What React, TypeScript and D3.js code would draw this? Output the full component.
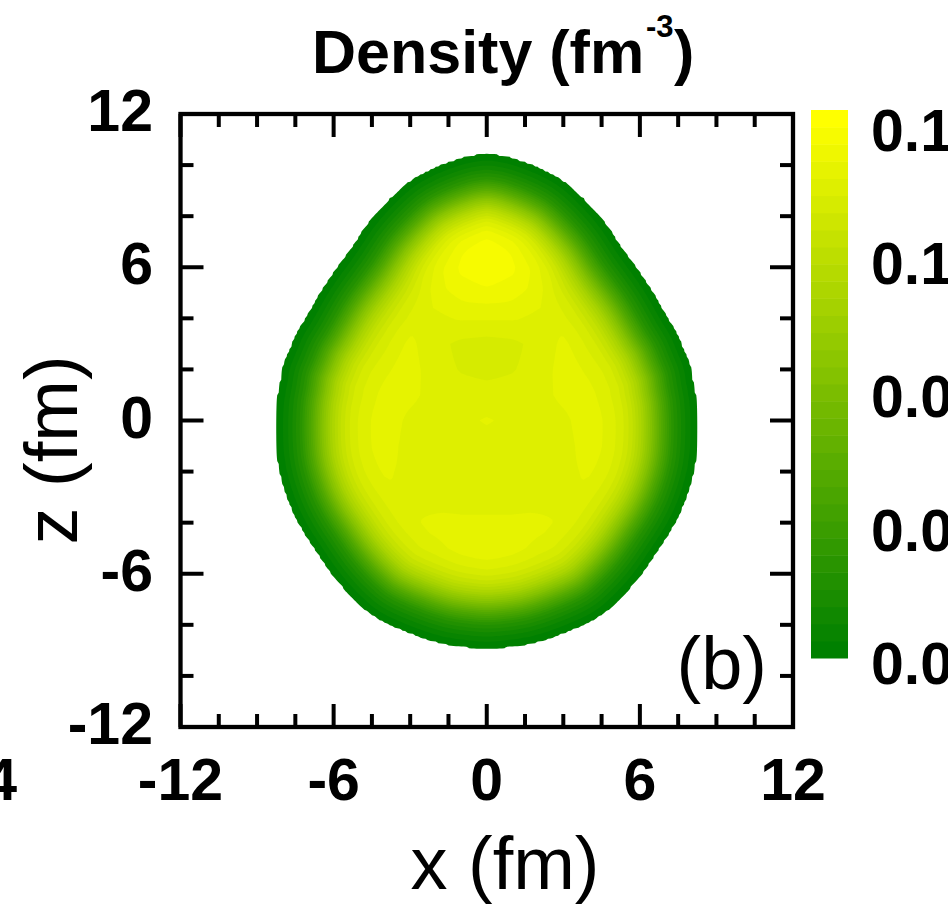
import React, { useMemo } from 'react';
import * as d3 from 'd3';

const W = 948;
const H = 904;
const FONT = '"Liberation Sans", Arial, Helvetica, sans-serif';

// outer edge of the density cloud (right half, x >= 0), in fm
const edgeZ = [10.44, 10.36, 10.16, 9.77, 9.27, 7.94, 6.65, 5.35, 4.03, 3.43, 2.74, 2.11, 1.45, 0.8, -0.49, -1.81, -3.12, -4.16, -5.2, -6.12, -7.03, -7.7, -8.3, -8.74, -8.92, -8.95];
const edgeHalfWidth = [0, 0.7, 1.4, 2.35, 3.17, 4.5, 5.4, 6.33, 7.1, 7.46, 7.76, 8.0, 8.12, 8.23, 8.28, 8.17, 7.8, 7.32, 6.66, 6.01, 5.2, 4.4, 3.14, 1.8, 0.6, 0];

// surface fall-off: fraction of the interior density vs depth below the edge (fm)
const skinDepth = [0, 0.3, 0.6, 1.0, 1.4, 1.8, 2.2, 2.6, 3.0, 3.5, 4.0, 5.0];
const skinFraction = [0.011, 0.045, 0.1, 0.2, 0.37, 0.57, 0.74, 0.86, 0.93, 0.97, 0.99, 1];

// interior density (1e-3 fm^-3) on a 1 fm grid: columns x = 0..9, rows z = 11..-10
const interiorX = [0, 1, 2, 3, 4, 5, 6, 7, 8, 9];
const interiorZ = [11, 10, 9, 8, 7, 6, 5, 4, 3, 2, 1, 0, -1, -2, -3, -4, -5, -6, -7, -8, -9, -10];
const interiorDensity = [
  [158, 157, 155, 152, 149, 146, 144, 143, 143, 143],
  [159, 158, 156, 152, 149, 146, 144, 143, 143, 143],
  [160, 159, 156, 151, 148, 145, 143, 143, 143, 143],
  [161, 159, 156, 151, 148, 145, 143, 143, 143, 143],
  [163, 161, 157, 151, 147, 145, 143, 143, 143, 143],
  [161, 159, 155, 150, 146, 145, 144, 143, 143, 143],
  [154, 153, 150, 147, 145, 146, 146, 145, 144, 143],
  [146, 146, 145, 146, 145, 146, 146, 146, 145, 144],
  [138, 139, 142, 148, 146, 147, 147, 146, 145, 144],
  [139, 140, 142, 148, 147, 147, 147, 146, 145, 144],
  [142, 142, 143, 147, 148, 147, 147, 146, 145, 144],
  [146, 144, 142, 144, 149, 148, 147, 146, 145, 144],
  [143, 143, 142, 143, 149, 148, 147, 146, 145, 144],
  [142, 142, 142, 144, 148, 148, 147, 146, 145, 144],
  [142, 142, 144, 146, 147, 147, 147, 146, 145, 144],
  [147, 147, 147, 147, 147, 147, 146, 146, 145, 144],
  [151, 150, 148, 147, 147, 146, 146, 145, 144, 144],
  [149, 148, 147, 147, 146, 146, 145, 145, 144, 144],
  [147, 147, 146, 146, 146, 145, 145, 144, 144, 144],
  [146, 146, 146, 146, 145, 145, 144, 144, 144, 144],
  [146, 146, 146, 146, 145, 145, 144, 144, 144, 144],
  [146, 146, 146, 146, 145, 145, 144, 144, 144, 144],
];

const xMajor = [-12, -6, 0, 6, 12];
const zMajor = [-12, -6, 0, 6, 12];
const xMinorStep = 1.5;
const zMinorStep = 2;
const cbTicks = [0, 0.04, 0.08, 0.12, 0.16];
const densityMin = 0.0015;
const densityMax = 0.166;
const nLevels = 32;

const plot = { left: 180.5, right: 793, top: 114, bottom: 727 };
const cb = { left: 811, right: 848, top: 110, bottom: 658 };

function segDist(px: number, pz: number, ax: number, az: number, bx: number, bz: number) {
  const dx = bx - ax, dz = bz - az;
  const L = dx * dx + dz * dz;
  let t = L > 0 ? ((px - ax) * dx + (pz - az) * dz) / L : 0;
  t = Math.max(0, Math.min(1, t));
  const ex = ax + t * dx - px, ez = az + t * dz - pz;
  return Math.sqrt(ex * ex + ez * ez);
}

function interiorAt(x: number, z: number) {
  const nc = interiorX.length, nr = interiorZ.length;
  const cx = Math.min(Math.abs(x) - interiorX[0], nc - 1);
  const c0 = Math.min(Math.floor(cx), nc - 2);
  const fx = cx - c0;
  const rz = Math.max(0, Math.min(nr - 1, interiorZ[0] - z));
  const r0 = Math.min(Math.floor(rz), nr - 2);
  const fz = rz - r0;
  const v = (r: number, c: number) => interiorDensity[r][c];
  const top = v(r0, c0) * (1 - fx) + v(r0, c0 + 1) * fx;
  const bot = v(r0 + 1, c0) * (1 - fx) + v(r0 + 1, c0 + 1) * fx;
  return (top * (1 - fz) + bot * fz) * 1e-3;
}

// smooth the read edge with a closed Catmull-Rom curve and flatten it to a polygon
function smoothEdge(raw: [number, number][]) {
  const pts: [number, number][] = [];
  let px = 0, py = 0;
  const ctx = {
    moveTo(a: number, b: number) { pts.push([a, b]); px = a; py = b; },
    lineTo(a: number, b: number) { pts.push([a, b]); px = a; py = b; },
    bezierCurveTo(x1: number, y1: number, x2: number, y2: number, x3: number, y3: number) {
      for (let s = 1; s <= 10; s++) {
        const t = s / 10, u = 1 - t;
        pts.push([
          u * u * u * px + 3 * u * u * t * x1 + 3 * u * t * t * x2 + t * t * t * x3,
          u * u * u * py + 3 * u * u * t * y1 + 3 * u * t * t * y2 + t * t * t * y3,
        ]);
      }
      px = x3; py = y3;
    },
    closePath() {},
  };
  d3.line().curve(d3.curveCatmullRomClosed.alpha(0.5)).context(ctx as any)(raw);
  return pts;
}

const App: React.FC = () => {
  const x = d3.scaleLinear().domain([-12, 12]).range([plot.left, plot.right]);
  const z = d3.scaleLinear().domain([-12, 12]).range([plot.bottom, plot.top]);
  const cbScale = d3.scaleLinear().domain([densityMin, densityMax]).range([cb.bottom, cb.top]);
  const color = d3.interpolateRgb('#008000', '#ffff00');
  const skin = d3.scaleLinear().domain(skinDepth).range(skinFraction).clamp(true);

  const bands = useMemo(() => {
    const raw: [number, number][] = [];
    edgeZ.forEach((zz, i) => raw.push([edgeHalfWidth[i], zz]));
    for (let i = edgeZ.length - 2; i > 0; i--) raw.push([-edgeHalfWidth[i], edgeZ[i]]);
    const poly = smoothEdge(raw);

    const step = 0.1;
    const n = Math.round(24 / step) + 1;
    const values = new Float64Array(n * n);
    for (let j = 0; j < n; j++) {
      const zz = 12 - j * step;
      for (let i = 0; i < n; i++) {
        const xx = -12 + i * step;
        if (zz > 11 || zz < -10 || Math.abs(xx) > 9.5) continue;
        if (!d3.polygonContains(poly, [xx, zz])) continue;
        let d = Infinity;
        for (let k = 0; k < poly.length; k++) {
          const a = poly[k], b = poly[(k + 1) % poly.length];
          d = Math.min(d, segDist(xx, zz, a[0], a[1], b[0], b[1]));
        }
        values[j * n + i] = interiorAt(xx, zz) * skin(d);
      }
    }
    const delta = (densityMax - densityMin) / nLevels;
    const thresholds = d3.range(nLevels).map((k) => densityMin + k * delta);
    const contours = d3.contours().size([n, n]).thresholds(thresholds)(Array.from(values));
    const proj = d3.geoTransform({
      point(px: number, py: number) {
        (this as any).stream.point(x(-12 + (px - 0.5) * step), z(12 - (py - 0.5) * step));
      },
    });
    const path = d3.geoPath(proj);
    return contours.map((c, k) => ({ d: path(c as any) || '', fill: color(k / (nLevels - 1)) }));
  }, []);

  const cbDelta = (densityMax - densityMin) / nLevels;
  const cbBands = d3.range(nLevels).map((k) => ({
    y0: cbScale(densityMin + (k + 1) * cbDelta),
    y1: cbScale(densityMin + k * cbDelta),
    fill: color(k / (nLevels - 1)),
  }));

  const xMinor = d3.range(-12, 12.001, xMinorStep).filter((v) => !xMajor.includes(v));
  const zMinor = d3.range(-12, 12.001, zMinorStep).filter((v) => !zMajor.includes(v));
  const majorLen = 23;
  const minorLen = 13;
  const tickW = 4;

  return (
    <svg width={W} height={H} style={{ position: 'absolute', left: 0, top: 0, background: '#fff' }} fontFamily={FONT}>
      <rect width={W} height={H} fill="#fff" />
      {bands.map((b, i) => (
        <path key={i} d={b.d} fill={b.fill} stroke="none" />
      ))}

      {/* ticks on all four sides */}
      <g stroke="#000" strokeWidth={tickW}>
        {xMajor.map((v) => (
          <g key={'xM' + v}>
            <line x1={x(v)} x2={x(v)} y1={plot.bottom} y2={plot.bottom - majorLen} />
            <line x1={x(v)} x2={x(v)} y1={plot.top} y2={plot.top + majorLen} />
          </g>
        ))}
        {xMinor.map((v) => (
          <g key={'xm' + v}>
            <line x1={x(v)} x2={x(v)} y1={plot.bottom} y2={plot.bottom - minorLen} />
            <line x1={x(v)} x2={x(v)} y1={plot.top} y2={plot.top + minorLen} />
          </g>
        ))}
        {zMajor.map((v) => (
          <g key={'zM' + v}>
            <line x1={plot.left} x2={plot.left + majorLen} y1={z(v)} y2={z(v)} />
            <line x1={plot.right} x2={plot.right - majorLen} y1={z(v)} y2={z(v)} />
          </g>
        ))}
        {zMinor.map((v) => (
          <g key={'zm' + v}>
            <line x1={plot.left} x2={plot.left + minorLen} y1={z(v)} y2={z(v)} />
            <line x1={plot.right} x2={plot.right - minorLen} y1={z(v)} y2={z(v)} />
          </g>
        ))}
      </g>
      <rect
        x={plot.left}
        y={plot.top}
        width={plot.right - plot.left}
        height={plot.bottom - plot.top}
        fill="none"
        stroke="#000"
        strokeWidth={4.3}
      />

      {/* tick labels */}
      <g fontWeight="bold" fontSize={59} fill="#000">
        {xMajor.map((v) => (
          <text key={'xl' + v} x={x(v)} y={800} textAnchor="middle">
            {v}
          </text>
        ))}
        <text x={17} y={800} textAnchor="end">24</text>
        {zMajor.map((v) => (
          <text key={'zl' + v} x={153} y={z(v) + 17} textAnchor="end">
            {v}
          </text>
        ))}
      </g>

      {/* axis titles */}
      <text x={505} y={889} textAnchor="middle" fontSize={74} fill="#000">
        x (fm)
      </text>
      <text transform="translate(77,450) rotate(-90)" textAnchor="middle" fontSize={74} fill="#000">
        z (fm)
      </text>
      <text x={767} y={689} textAnchor="end" fontSize={74} fill="#000">
        (b)
      </text>

      {/* title */}
      <text y={73} fontWeight="bold" fontSize={61} fill="#000">
        <tspan x={312}>Density (fm</tspan>
        <tspan x={646} dy={-36} fontSize={31}>-3</tspan>
        <tspan x={674} dy={36}>)</tspan>
      </text>

      {/* colour bar */}
      {cbBands.map((b, i) => (
        <rect key={i} x={cb.left} width={cb.right - cb.left} y={b.y0} height={b.y1 - b.y0 + 0.5} fill={b.fill} />
      ))}
      <g fontWeight="bold" fontSize={59} fill="#000">
        {cbTicks.map((v) => (
          <text key={'cb' + v} x={871} y={cbScale(v) + 21}>
            {d3.format('.2f')(v)}
          </text>
        ))}
      </g>
    </svg>
  );
};

export default App;
